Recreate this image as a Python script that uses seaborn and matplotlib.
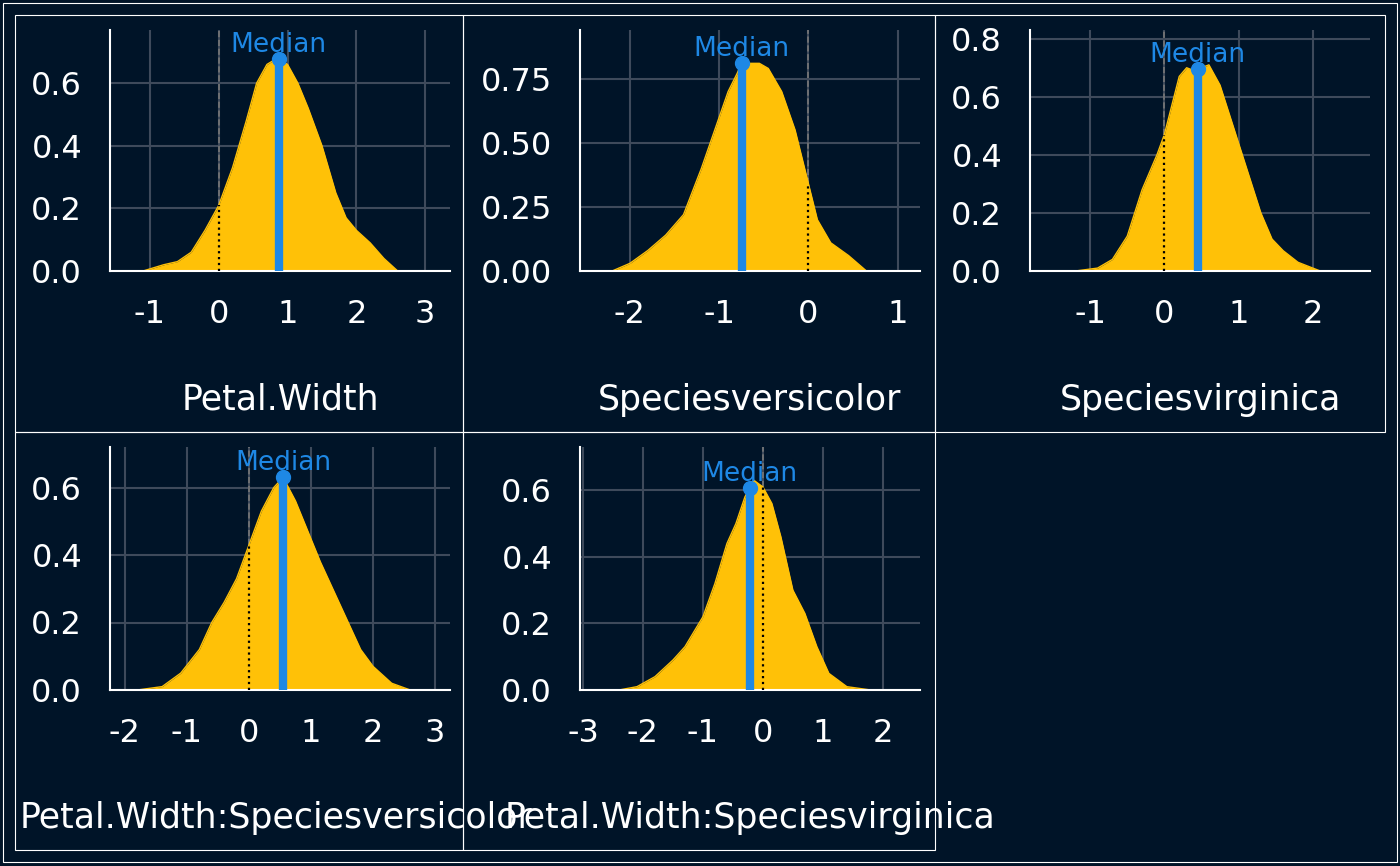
import matplotlib
matplotlib.use("Agg")
import matplotlib.pyplot as plt
import seaborn as sns
import numpy as np
import pandas as pd
from matplotlib.patches import Rectangle

names = ["Petal.Width", "Speciesversicolor", "Speciesvirginica",
         "Petal.Width:Speciesversicolor", "Petal.Width:Speciesvirginica"]
dens_x = [
    [-1.1, -0.8, -0.6, -0.4, -0.2, 0.0, 0.2, 0.4, 0.55, 0.7, 0.85, 1.0, 1.15, 1.3, 1.5, 1.7, 1.85, 2.0, 2.2, 2.4, 2.6],
    [-2.2, -2.0, -1.8, -1.6, -1.4, -1.2, -1.05, -0.9, -0.8, -0.75, -0.55, -0.45, -0.3, -0.15, 0.0, 0.1, 0.25, 0.45, 0.65],
    [-1.2, -0.9, -0.7, -0.5, -0.3, -0.1, 0.0, 0.1, 0.2, 0.3, 0.4, 0.5, 0.6, 0.75, 0.9, 1.1, 1.3, 1.45, 1.6, 1.8, 2.1],
    [-1.8, -1.4, -1.1, -0.8, -0.6, -0.4, -0.2, 0.0, 0.2, 0.4, 0.55, 0.75, 0.95, 1.15, 1.35, 1.6, 1.8, 2.0, 2.3, 2.6],
    [-2.4, -2.1, -1.8, -1.5, -1.3, -1.0, -0.8, -0.6, -0.45, -0.3, -0.15, 0.0, 0.15, 0.3, 0.5, 0.7, 0.9, 1.1, 1.4, 1.8],
]
dens_y = [
    [0.0, 0.02, 0.03, 0.06, 0.13, 0.21, 0.33, 0.48, 0.60, 0.66, 0.68, 0.66, 0.60, 0.52, 0.40, 0.25, 0.17, 0.13, 0.09, 0.04, 0.0],
    [0.0, 0.03, 0.08, 0.14, 0.22, 0.40, 0.55, 0.70, 0.77, 0.81, 0.81, 0.79, 0.70, 0.55, 0.34, 0.20, 0.11, 0.06, 0.0],
    [0.0, 0.01, 0.04, 0.12, 0.28, 0.40, 0.47, 0.57, 0.67, 0.70, 0.69, 0.70, 0.71, 0.64, 0.52, 0.36, 0.20, 0.11, 0.07, 0.03, 0.0],
    [0.0, 0.01, 0.05, 0.12, 0.20, 0.26, 0.33, 0.43, 0.53, 0.60, 0.63, 0.56, 0.47, 0.38, 0.30, 0.20, 0.12, 0.07, 0.02, 0.0],
    [0.0, 0.01, 0.04, 0.09, 0.13, 0.22, 0.32, 0.44, 0.50, 0.58, 0.63, 0.61, 0.56, 0.46, 0.30, 0.23, 0.13, 0.05, 0.01, 0.0],
]
medians = [0.87, -0.75, 0.45, 0.55, -0.22]
xlims = [(-1.58, 3.36), (-2.56, 1.25), (-1.81, 2.77), (-2.24, 3.24), (-3.05, 2.62)]
ylims = [(0, 0.77), (0, 0.94), (0, 0.83), (0, 0.72), (0, 0.73)]
xticks = [[-1, 0, 1, 2, 3], [-2, -1, 0, 1], [-1, 0, 1, 2], [-2, -1, 0, 1, 2, 3], [-3, -2, -1, 0, 1, 2]]
yticks = [[0, 0.2, 0.4, 0.6], [0, 0.25, 0.5, 0.75], [0, 0.2, 0.4, 0.6, 0.8], [0, 0.2, 0.4, 0.6], [0, 0.2, 0.4, 0.6]]
ytfmt = ["{:.1f}", "{:.2f}", "{:.1f}", "{:.1f}", "{:.1f}"]

BG = "#001428"
FILL = "#FFC107"
BLUE = "#1E88E5"
W, H = 1400, 866
sns.set_theme(style="dark")
fig = plt.figure(figsize=(14, 8.66), dpi=100, facecolor=BG)

boxes = [(15, 15, 463, 432), (463, 15, 935, 432), (935, 15, 1385, 432),
         (15, 432, 463, 850), (463, 432, 935, 850)]
axboxes = [(110, 30, 450, 271), (580, 30, 920, 271), (1030, 30, 1370, 271),
           (110, 447, 450, 690), (580, 447, 920, 690)]
labelpos = [(280, 400), (750, 400), (1200, 400), (20, 818), (505, 818)]

fig.patches.append(Rectangle((3 / W, 1 - 862 / H), 1394 / W, 859 / H, transform=fig.transFigure,
                             fill=False, ec="white", lw=0.8))
for (l, t, r, b) in boxes:
    fig.patches.append(Rectangle((l / W, 1 - b / H), (r - l) / W, (b - t) / H,
                                 transform=fig.transFigure, fill=False, ec="white", lw=0.8))

for i in range(5):
    l, t, r, b = axboxes[i]
    ax = fig.add_axes([l / W, 1 - b / H, (r - l) / W, (b - t) / H])
    ax.set_facecolor(BG)
    df = pd.DataFrame({"x": dens_x[i], "y": dens_y[i]})
    ax.fill_between(df.x, 0, df.y, color=FILL, lw=0, zorder=2)
    sns.lineplot(data=df, x="x", y="y", ax=ax, color=FILL, lw=1, zorder=2)
    ax.set_xlim(*xlims[i]); ax.set_ylim(*ylims[i])
    ax.set_xticks(xticks[i]); ax.set_yticks(yticks[i])
    ax.set_xticklabels([str(v) for v in xticks[i]])
    ax.set_yticklabels([ytfmt[i].format(v) for v in yticks[i]])
    ax.grid(True, color="#3E4A5B", lw=1.5, zorder=0)
    ax.tick_params(axis="y", colors="white", labelsize=23, length=0, pad=20)
    ax.tick_params(axis="x", colors="white", labelsize=23, length=0, pad=20)
    for s in ["top", "right"]:
        ax.spines[s].set_visible(False)
    for s in ["left", "bottom"]:
        ax.spines[s].set_visible(True); ax.spines[s].set_color("white"); ax.spines[s].set_linewidth(1.5)
    ax.set_xlabel(""); ax.set_ylabel("")
    d0 = np.interp(0, dens_x[i], dens_y[i])
    ax.plot([0, 0], [0, d0], ls=":", color="black", lw=1.6, zorder=3)
    ax.plot([0, 0], [d0, ylims[i][1]], ls="--", color="#777777", lw=1.2, zorder=1)
    m = medians[i]
    dm = np.interp(m, dens_x[i], dens_y[i])
    ax.plot([m, m], [0, dm], color=BLUE, lw=6, zorder=4, solid_capstyle="butt")
    ax.plot([m], [dm], "o", color=BLUE, ms=10, zorder=5)
    ax.text(m, dm + 0.005 * ylims[i][1], "Median", color=BLUE, fontsize=19, fontweight="medium",
            ha="center", va="bottom", zorder=6)
    fx, fy = labelpos[i]
    fig.text(fx / W, 1 - fy / H, names[i], color="white", fontsize=25,
             ha="center" if i < 3 else "left", va="center")

fig.savefig("out.png", dpi=100, facecolor=BG)
